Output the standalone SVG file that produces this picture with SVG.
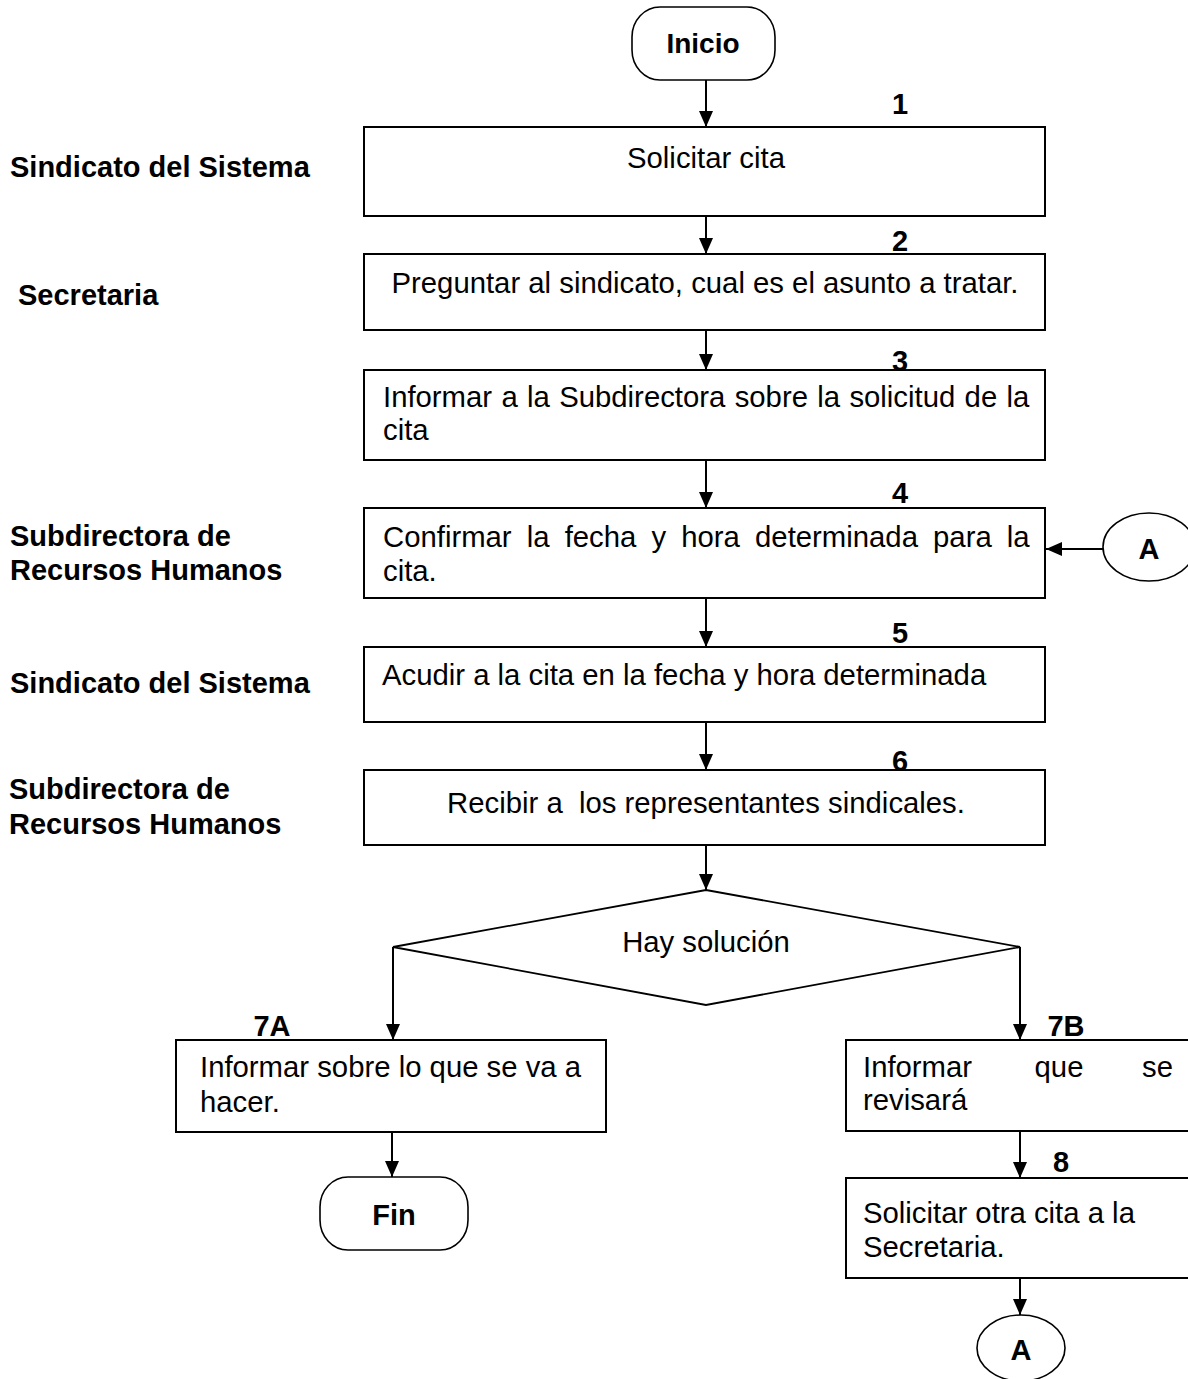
<svg xmlns="http://www.w3.org/2000/svg" width="1188" height="1379" viewBox="0 0 1188 1379">
<defs>
<marker id="arr" markerUnits="userSpaceOnUse" markerWidth="16" markerHeight="14" refX="16" refY="7" orient="auto"><path d="M0,0 L16,7 L0,14 z" fill="#000"/></marker>
<style>
.box{fill:#fff;stroke:#000;stroke-width:2}
.term{fill:#fff;stroke:#000;stroke-width:1.6}
.t{font-family:"Liberation Sans",Arial,sans-serif;font-size:29.3px;fill:#000}
.b{font-family:"Liberation Sans",Arial,sans-serif;font-size:29px;font-weight:bold;fill:#000}
.c{text-anchor:middle}
.ln{fill:none;stroke:#000;stroke-width:2;marker-end:url(#arr)}
</style>
</defs>
<rect width="1188" height="1379" fill="#fff"/>

<g id="lanes">
<text class="b" x="10" y="177">Sindicato del Sistema</text>
<text class="b" x="18" y="305">Secretaria</text>
<text class="b" x="10" y="546">Subdirectora de</text>
<text class="b" x="10" y="580">Recursos Humanos</text>
<text class="b" x="10" y="693">Sindicato del Sistema</text>
<text class="b" x="9" y="799">Subdirectora de</text>
<text class="b" x="9" y="834">Recursos Humanos</text>
</g>

<g id="connectors">
<path class="ln" d="M706,80 V127"/>
<path class="ln" d="M706,216 V254"/>
<path class="ln" d="M706,330 V370"/>
<path class="ln" d="M706,460 V508"/>
<path class="ln" d="M706,598 V647"/>
<path class="ln" d="M706,722 V770"/>
<path class="ln" d="M706,845 V890"/>
<path class="ln" d="M393,947 V1040"/>
<path class="ln" d="M1020,947 V1040"/>
<path class="ln" d="M392,1132 V1177"/>
<path class="ln" d="M1020,1131 V1178"/>
<path class="ln" d="M1020,1278 V1315"/>
<path class="ln" d="M1103,549 H1046"/>
</g>

<g id="inicio">
<rect class="term" x="632" y="7" width="143" height="73" rx="28" ry="30"/>
<text class="b c" x="703" y="53" style="font-size:28px">Inicio</text>
</g>

<g id="step1">
<rect class="box" x="364" y="127" width="681" height="89"/>
<text class="b c" x="900" y="114">1</text>
<text class="t c" x="706" y="168">Solicitar cita</text>
</g>

<g id="step2">
<rect class="box" x="364" y="254" width="681" height="76"/>
<text class="b c" x="900" y="251">2</text>
<text class="t c" x="705" y="293">Preguntar al sindicato, cual es el asunto a tratar.</text>
</g>

<g id="step3">
<rect class="box" x="364" y="370" width="681" height="90"/>
<text class="b c" x="900" y="371">3</text>
<text class="t" x="383" y="407" style="word-spacing:1.2px">Informar a la Subdirectora sobre la solicitud de la</text>
<text class="t" x="383" y="440">cita</text>
</g>

<g id="step4">
<rect class="box" x="364" y="508" width="681" height="90"/>
<text class="b c" x="900" y="503">4</text>
<text class="t" x="383" y="547" style="word-spacing:7px">Confirmar la fecha y hora determinada para la</text>
<text class="t" x="383" y="581">cita.</text>
</g>

<g id="connA-in">
<ellipse class="term" cx="1149" cy="547" rx="46" ry="34"/>
<text class="b c" x="1149" y="559">A</text>
</g>

<g id="step5">
<rect class="box" x="364" y="647" width="681" height="75"/>
<text class="b c" x="900" y="643">5</text>
<text class="t" x="382" y="685">Acudir a la cita en la fecha y hora determinada</text>
</g>

<g id="step6">
<rect class="box" x="364" y="770" width="681" height="75"/>
<text class="b c" x="900" y="771">6</text>
<text class="t c" x="706" y="813" xml:space="preserve">Recibir a  los representantes sindicales.</text>
</g>

<g id="decision">
<polygon class="box" points="706,890 1020,947 706,1005 393,947" style="stroke-width:1.8"/>
<text class="t c" x="706" y="952">Hay solución</text>
</g>

<g id="step7A">
<rect class="box" x="176" y="1040" width="430" height="92"/>
<text class="b c" x="272" y="1036">7A</text>
<text class="t" x="200" y="1077">Informar sobre lo que se va a</text>
<text class="t" x="200" y="1112">hacer.</text>
</g>

<g id="fin">
<rect class="term" x="320" y="1177" width="148" height="73" rx="28" ry="30"/>
<text class="b c" x="394" y="1225">Fin</text>
</g>

<g id="step7B">
<rect class="box" x="846" y="1040" width="360" height="91"/>
<text class="b c" x="1066" y="1036">7B</text>
<text class="t" x="863" y="1077">Informar</text>
<text class="t c" x="1059" y="1077">que</text>
<text class="t" x="1173" y="1077" style="text-anchor:end">se</text>
<text class="t" x="863" y="1110">revisará</text>
</g>

<g id="step8">
<rect class="box" x="846" y="1178" width="360" height="100"/>
<text class="b c" x="1061" y="1172">8</text>
<text class="t" x="863" y="1223">Solicitar otra cita a la</text>
<text class="t" x="863" y="1257">Secretaria.</text>
</g>

<g id="connA-out">
<ellipse class="term" cx="1021" cy="1348" rx="44" ry="33"/>
<text class="b c" x="1021" y="1360">A</text>
</g>
</svg>
